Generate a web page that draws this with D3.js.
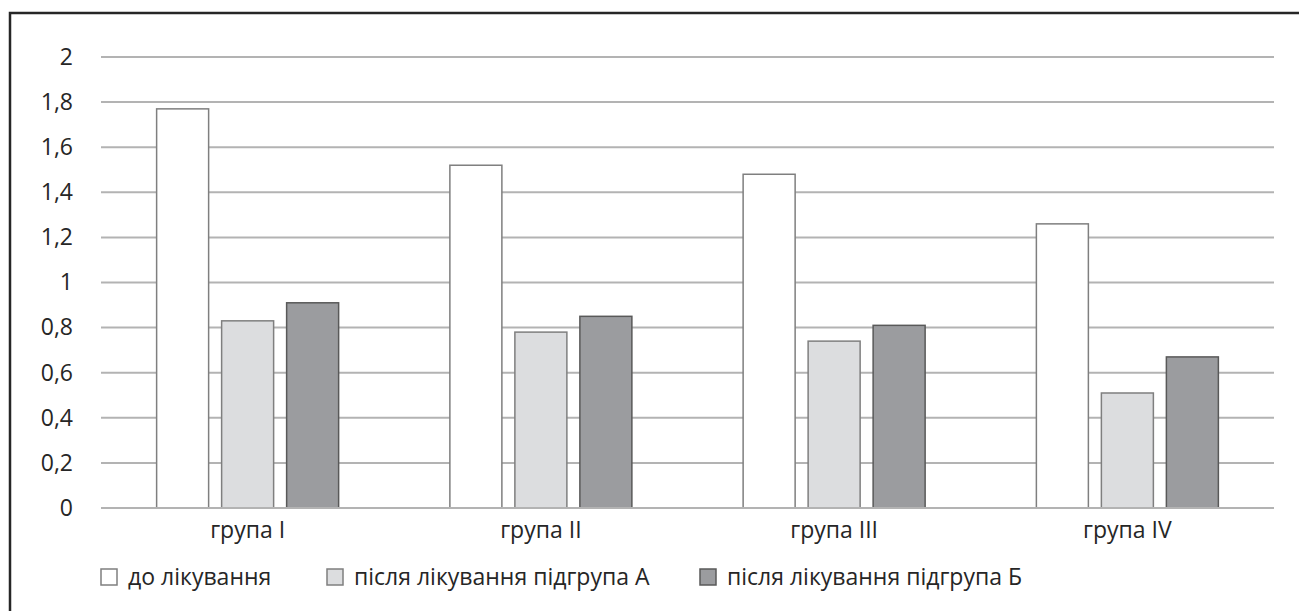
<!DOCTYPE html>
<html>
<head>
<meta charset="utf-8">
<script src="https://cdn.jsdelivr.net/npm/d3@7"></script>
<style>
body { margin: 0; background: #fff; }
text { font-family: "Open Sans", sans-serif; fill: #262626; }
</style>
</head>
<body>
<svg id="chart" width="1299" height="611"></svg>
<script>
var groups = ["група I", "група II", "група III", "група IV"]
var seriesNames = ["до лікування", "після лікування підгрупа А", "після лікування підгрупа Б"]
var beforeVals = [1.77, 1.52, 1.48, 1.26]
var afterA = [0.83, 0.78, 0.74, 0.51]
var afterB = [0.91, 0.85, 0.81, 0.67]
var yTicks = [0, 0.2, 0.4, 0.6, 0.8, 1, 1.2, 1.4, 1.6, 1.8, 2]

var fills = ["#ffffff", "#dcdddf", "#9b9c9f"]
var strokes = ["#7f7f7f", "#7f7f7f", "#595959"]

var series = [beforeVals, afterA, afterB]
var rows = groups.map(function(g, i) {
	return { group: g, vals: series.map(function(s) { return s[i] }) }
})

var svg = d3.select("#chart")
var fontSize = "23px"

// frame (only left and top visible)
svg.append("path")
	.attr("d", "M10,611 V13 H1299")
	.attr("fill", "none")
	.attr("stroke", "#262626")
	.attr("stroke-width", 2.5)

var plotL = 101, plotR = 1274, plotT = 57, plotB = 508

var x = d3.scaleBand().domain(groups).range([plotL, plotR]).paddingInner(0).paddingOuter(0)
var xs = d3.scaleBand().domain(d3.range(3)).range([0, 182]).paddingInner(0.2).paddingOuter(0)
var y = d3.scaleLinear().domain([0, 2]).range([plotB, plotT])

// gridlines
svg.append("g").selectAll("line")
	.data(yTicks)
	.enter().append("line")
	.attr("x1", plotL).attr("x2", plotR)
	.attr("y1", function(d) { return y(d) }).attr("y2", function(d) { return y(d) })
	.attr("stroke", "#b3b3b3")
	.attr("stroke-width", 2)

// y labels
var yAxis = d3.axisLeft(y).tickValues(yTicks).tickSize(0).tickPadding(28)
	.tickFormat(function(d) { return String(d).replace(".", ",") })
var ya = svg.append("g").attr("transform", "translate(" + plotL + ",0)").call(yAxis)
ya.select(".domain").remove()
ya.selectAll("text").attr("font-size", fontSize).attr("fill", "#262626").attr("font-family", "'Open Sans', sans-serif")

// bars
var gGroups = svg.append("g").selectAll("g")
	.data(rows)
	.enter().append("g")
	.attr("transform", function(d) { return "translate(" + (x(d.group) + (x.bandwidth() - 182) / 2) + ",0)" })

gGroups.selectAll("rect")
	.data(function(d) { return d.vals })
	.enter().append("rect")
	.attr("x", function(d, i) { return xs(i) })
	.attr("width", xs.bandwidth())
	.attr("y", function(d) { return y(d) })
	.attr("height", function(d) { return plotB - y(d) })
	.attr("fill", function(d, i) { return fills[i] })
	.attr("stroke", function(d, i) { return strokes[i] })
	.attr("stroke-width", 1.5)

// baseline over bars
svg.append("line")
	.attr("x1", plotL).attr("x2", plotR)
	.attr("y1", y(0)).attr("y2", y(0))
	.attr("stroke", "#b3b3b3").attr("stroke-width", 2)

// x labels
var xAxis = d3.axisBottom(x).tickSize(0).tickPadding(14)
var xa = svg.append("g").attr("transform", "translate(0," + plotB + ")").call(xAxis)
xa.select(".domain").remove()
xa.selectAll("text").attr("font-size", fontSize).attr("fill", "#262626").attr("font-family", "'Open Sans', sans-serif")

// legend
var legendX = [101, 327, 700]
var leg = svg.append("g").selectAll("g")
	.data(seriesNames)
	.enter().append("g")
	.attr("transform", function(d, i) { return "translate(" + legendX[i] + ",569)" })
leg.append("rect")
	.attr("width", 16).attr("height", 16)
	.attr("fill", function(d, i) { return fills[i] })
	.attr("stroke", function(d, i) { return strokes[i] })
	.attr("stroke-width", 1.5)
leg.append("text")
	.attr("x", 27).attr("y", 16)
	.attr("font-size", fontSize)
	.text(function(d) { return d })
</script>
</body>
</html>
